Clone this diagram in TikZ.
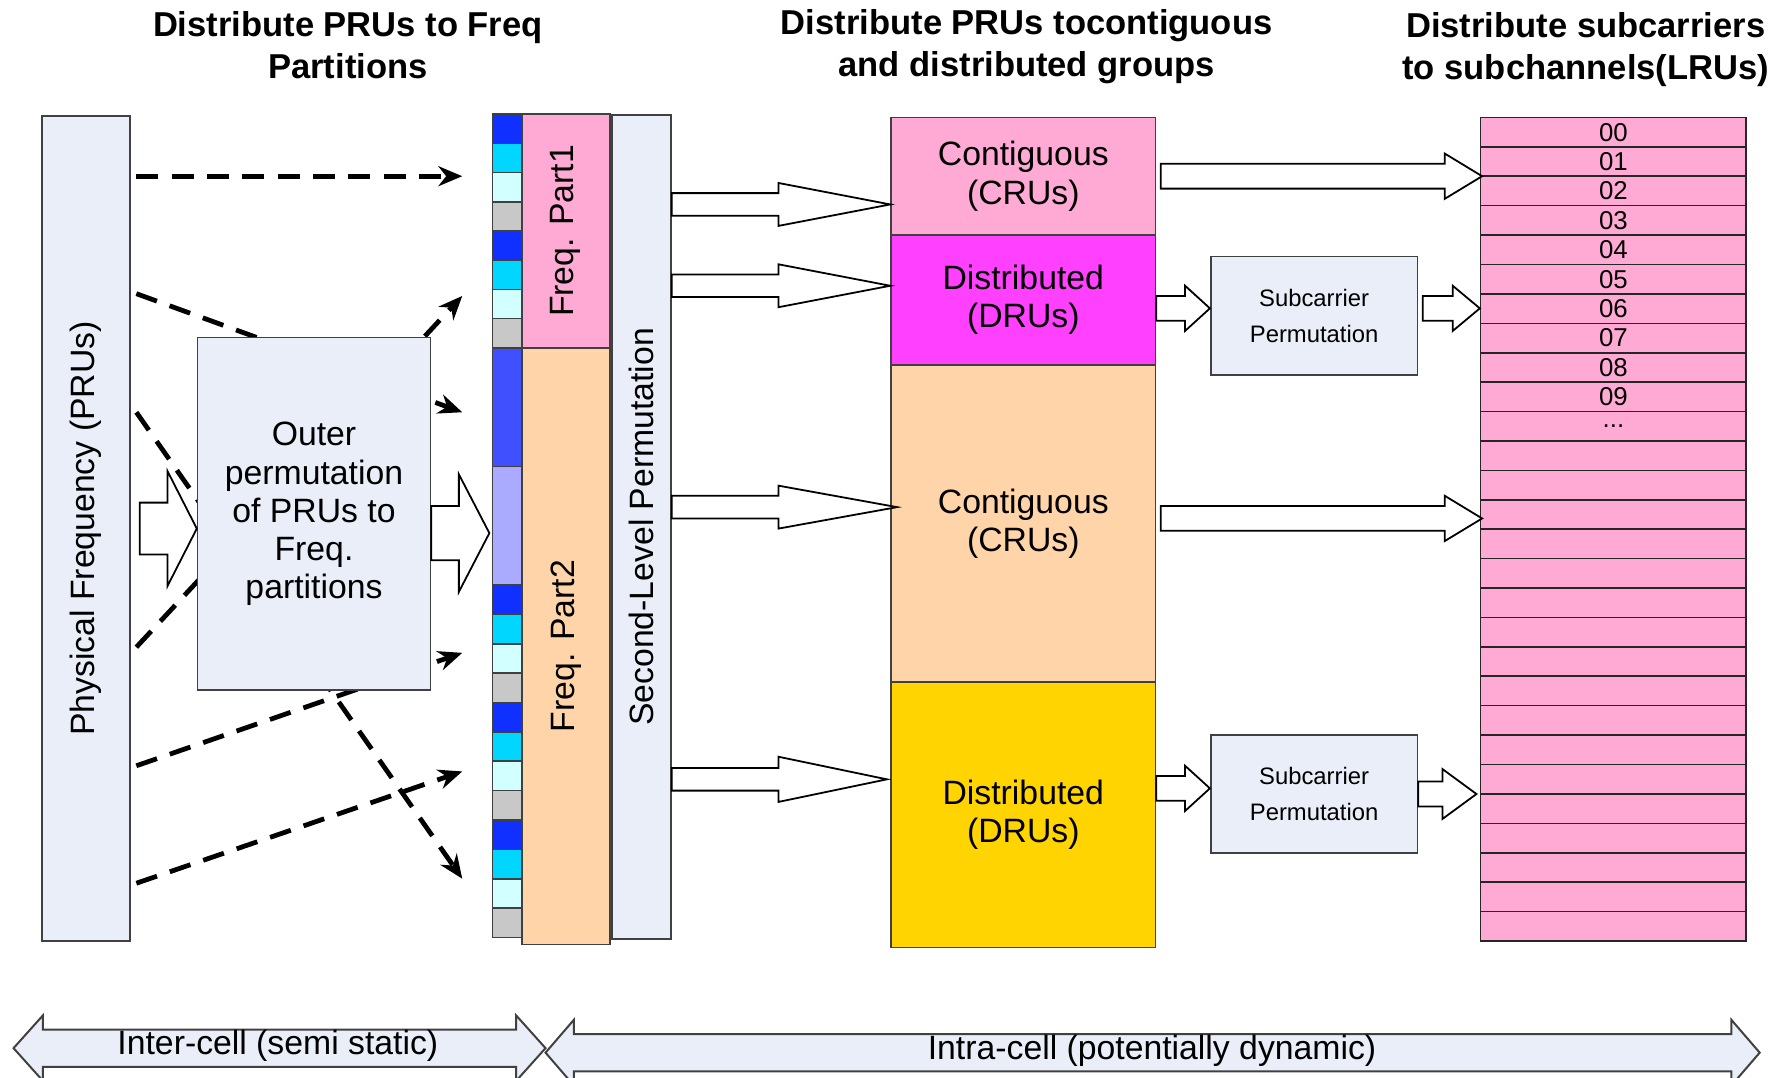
\documentclass[tikz,border=0pt]{standalone}
\usepackage{fontspec}
\setmainfont{Liberation Sans}
\usetikzlibrary{arrows.meta, calc}

\definecolor{boxgray}{RGB}{233,238,248}
\definecolor{cellblue}{RGB}{16,48,255}
\definecolor{cellcyan}{RGB}{0,214,255}
\definecolor{celllight}{RGB}{210,255,255}
\definecolor{cellgray}{RGB}{200,200,200}
\definecolor{midblue}{RGB}{64,80,255}
\definecolor{lavender}{RGB}{170,170,255}
\definecolor{pinkpart}{RGB}{255,170,212}
\definecolor{peach}{RGB}{255,212,168}
\definecolor{magentapart}{RGB}{255,64,255}
\definecolor{yellowpart}{RGB}{255,212,0}

% hollow arrow: start, tip, head length, shaft half, head half
\newcommand{\blockarrow}[5]{%
  \path #1 coordinate (ba-s) #2 coordinate (ba-t);
  \draw[hollow] ($(ba-s)+(0,-#4)$) -- ($(ba-t)+(-#3,-#4)$) -- ($(ba-t)+(-#3,-#5)$)
    -- (ba-t) -- ($(ba-t)+(-#3,#5)$) -- ($(ba-t)+(-#3,#4)$) -- ($(ba-s)+(0,#4)$) -- cycle;
}
% double headed arrow: left tip, right tip, head length, shaft half, head half
\newcommand{\dblarrow}[5]{%
  \path #1 coordinate (da-l) #2 coordinate (da-r);
  \draw[dblarr] (da-l) -- ($(da-l)+(#3,-#5)$) -- ($(da-l)+(#3,-#4)$) -- ($(da-r)+(-#3,-#4)$)
    -- ($(da-r)+(-#3,-#5)$) -- (da-r) -- ($(da-r)+(-#3,#5)$) -- ($(da-r)+(-#3,#4)$)
    -- ($(da-l)+(#3,#4)$) -- ($(da-l)+(#3,#5)$) -- cycle;
}

\tikzset{
  box/.style={draw=black!75, line width=0.4pt, inner sep=0pt, align=center},
  txt/.style={font=\fontsize{8.5}{9.6}\selectfont, align=center},
  small/.style={font=\fontsize{6}{9.1}\selectfont, align=center},
  title/.style={font=\fontsize{8.7}{10.5}\selectfont\bfseries, align=center},
  cell/.style={draw=black!75, line width=0.4pt, minimum width=0.26cm, inner sep=0pt},
  lrurow/.style={draw=black!85, line width=0.4pt, fill=pinkpart, minimum width=2.35cm,
    minimum height=0.2604cm, inner sep=0pt, font=\fontsize{6.3}{7}\selectfont},
  dasharrow/.style={line width=1.2pt, dash pattern=on 5.5pt off 3.4pt,
    -{Stealth[length=6pt,width=5pt]}},
  hollow/.style={draw=black, fill=white, line width=0.45pt},
  dblarr/.style={draw=black!75, fill=boxgray, line width=0.5pt},
}

\begin{document}
\begin{tikzpicture}[x=0.01cm, y=-0.01cm]
    \useasboundingbox (0,0) rectangle (1568,954);

    % titles
    \node[title] (t1) at (308,40) {Distribute PRUs to Freq\\Partitions};
    \node[title] (t2) at (909,41) {Distribute PRUs tocontiguous\\and distributed groups};
    \node[title] (t3) at (1404,44) {Distribute subcarriers\\to subchannels(LRUs)};

    % physical frequency
    \node[box, fill=boxgray, minimum width=0.78cm, minimum height=7.3cm] (phys) at (76,468) {};
    \node[txt, rotate=90] (physlbl) at (phys) {Physical Frequency (PRUs)};

    % PRU cells
    \foreach \g in {0,1}
        \foreach \j/\c in {0/cellblue,1/cellcyan,2/celllight,3/cellgray}
            \node[cell, fill=\c, minimum height=0.25875cm] (ca\g\j) at (449,{101+25.875*(4*\g+\j)+12.94}) {};
    \node[cell, fill=midblue, minimum height=1.05cm] (cm1) at (449,360.5) {};
    \node[cell, fill=lavender, minimum height=1.05cm] (cm2) at (449,465.5) {};
    \foreach \g in {0,1,2}
        \foreach \j/\c in {0/cellblue,1/cellcyan,2/celllight,3/cellgray}
            \node[cell, fill=\c, minimum height=0.26cm] (cb\g\j) at (449,{518+26*(4*\g+\j)+13}) {};
    \coordinate (colin) at ($(ca00.west)+(-26,0)$);

    % outer permutation lines
    \foreach \ya/\yb in {156/156, 260/365, 365/778, 573/262, 678/578, 782/683}
        \draw[dasharrow] ($(phys.east |- 0,\ya)+(5,0)$) -- (colin |- 0,\yb);

    \node[box, txt, fill=boxgray, minimum width=2.06cm, minimum height=3.12cm] (outer) at (278,455)
        {Outer\\permutation\\of PRUs to\\Freq.\\partitions};

    % frequency partitions
    \node[box, fill=pinkpart, minimum width=0.78cm, minimum height=2.07cm] (fp1) at (501,204.5) {};
    \node[txt, rotate=90] (fp1lbl) at (fp1) {Freq. Part1};
    \node[box, fill=peach, minimum width=0.78cm, minimum height=5.28cm] (fp2) at (501,572) {};
    \node[txt, rotate=90] (fp2lbl) at (fp2) {Freq. Part2};

    \node[box, fill=boxgray, minimum width=0.52cm, minimum height=7.29cm] (seclvl) at (568,466.5) {};
    \node[txt, rotate=90] (seclbl) at (seclvl) {Second-Level Permutation};

    % contiguous / distributed groups
    \node[box, txt, fill=pinkpart, minimum width=2.34cm, minimum height=1.04cm] (contA) at (906,156) {Contiguous\\(CRUs)};
    \node[box, txt, fill=magentapart, minimum width=2.34cm, minimum height=1.15cm] (distA) at (906,265.5) {Distributed\\(DRUs)};
    \node[box, txt, fill=peach, minimum width=2.34cm, minimum height=2.81cm] (contB) at (906,463.5) {Contiguous\\(CRUs)};
    \node[box, txt, fill=yellowpart, minimum width=2.34cm, minimum height=2.35cm] (distB) at (906,721.5) {Distributed\\(DRUs)};

    \node[box, small, fill=boxgray, minimum width=1.83cm, minimum height=1.05cm] (sub1) at (1163.5,279.5) {Subcarrier\\Permutation};
    \node[box, small, fill=boxgray, minimum width=1.83cm, minimum height=1.04cm] (sub2) at (1163.5,703) {Subcarrier\\Permutation};

    % logical units
    \foreach \i in {0,...,27}
        \node[lrurow] (lru\i) at (1428.5,{117+26.04*\i}) {};
    \foreach \i in {0,...,9}
        \node[font=\fontsize{6.5}{7}\selectfont] at (lru\i) {0\i};
    \node[font=\fontsize{6.5}{7}\selectfont] at (lru10) {...};

    % hollow arrows
    \blockarrow{($(phys.east |- 0,468)+(8,0)$)}{(outer.west |- 0,468)}{26}{23}{51}
    \blockarrow{(outer.east |- 0,472)}{($(cm2.west |- 0,472)+(-2,0)$)}{27}{24}{52}
    \blockarrow{(seclvl.east |- 0,181)}{(contA.west |- 0,181)}{99}{10}{19}
    \blockarrow{(seclvl.east |- 0,253)}{(distA.west |- 0,253)}{99}{10}{19}
    \blockarrow{(seclvl.east |- 0,449)}{($(contB.west |- 0,449)+(6,0)$)}{105}{10}{19}
    \blockarrow{(seclvl.east |- 0,690)}{($(distB.west |- 0,690)+(-3,0)$)}{96}{10}{20}
    \blockarrow{($(contA.east)+(4,0)$)}{($(lru2.west |- contA.east)+(2,0)$)}{33}{11}{20}
    \blockarrow{($(contB.east |- 0,459)+(4,0)$)}{($(lru13.west |- 0,459)+(2,0)$)}{33}{11}{20}
    \blockarrow{(distA.east |- 0,273)}{(sub1.west |- 0,273)}{22}{11}{20}
    \blockarrow{($(sub1.east |- 0,273)+(4,0)$)}{(lru6.west |- 0,273)}{24}{11}{20}
    \blockarrow{(distB.east |- 0,698)}{(sub2.west |- 0,698)}{22}{11}{20}
    \blockarrow{(sub2.east |- 0,703)}{($(lru23.west |- 0,703)+(-3,0)$)}{30}{11}{22}

    % cell scope arrows
    \coordinate (interL) at (12,928);
    \coordinate (interR) at (483,928);
    \coordinate (intraL) at (483,932);
    \coordinate (intraR) at (1558,932);
    \dblarrow{(interL)}{(interR)}{26}{16.5}{29}
    \dblarrow{(intraL)}{(intraR)}{25}{16.5}{29}
    \node[txt] (inter) at (246,926) {Inter-cell (semi static)};
    \node[txt] (intra) at (1020,930) {Intra-cell (potentially dynamic)};
\end{tikzpicture}
\end{document}
